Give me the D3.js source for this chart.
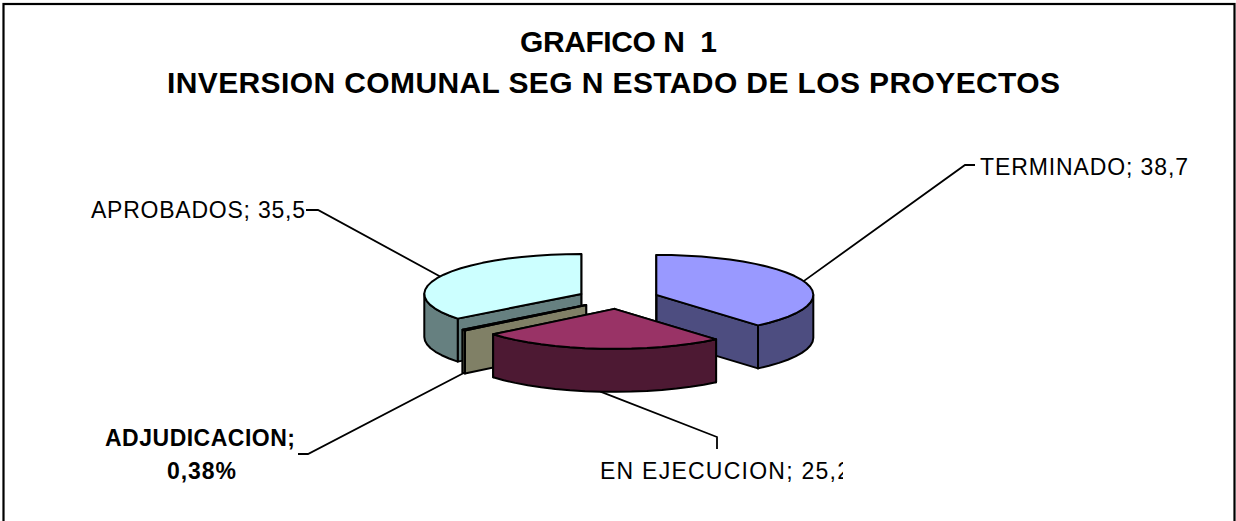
<!DOCTYPE html>
<html>
<head>
    <title>Grafico 1</title>
    <script src="https://d3js.org/d3.v7.min.js"></script>
    <style>
        html, body { margin: 0; padding: 0; background: #fff; }
        svg { display: block; }
        text { font-family: "Liberation Sans", Arial, sans-serif; white-space: pre; fill: #000; }
    </style>
</head>
<body>

<script>
// values
const categories = ['TERMINADO', 'EN EJECUCION', 'ADJUDICACION', 'APROBADOS'];
const values = [38.7, 25.2, 0.38, 35.5];
const valueLabels = ['38,7', '25,2', '0,38%', '35,5'];
const topColors = ['#9999ff', '#993366', '#ffffcc', '#ccffff'];
const sideColors = ['#4d4d80', '#4d1933', '#808066', '#668080'];
const titleLines = ['GRAFICO N  1', 'INVERSION COMUNAL SEG N ESTADO DE LOS PROYECTOS'];

const width = 1236, height = 521;

// pie geometry
const cx = 618, cy = 298.5;
const rx = 157, ry = 40, depth = 43;
const explode = 0.26;

const svg = d3.select('body')
    .append('svg')
    .attr('width', width)
    .attr('height', height);

// chart frame, the bottom edge falls outside the picture
svg.append('rect')
    .attr('x', 3.5).attr('y', 4)
    .attr('width', width - 5).attr('height', height + 10)
    .attr('fill', '#fff')
    .attr('stroke', '#000')
    .attr('stroke-width', 2.2);

// title
const titleSpec = [
    { x: 520, y: 52, len: 197 },
    { x: 167, y: 92.5, len: 893 }
];
svg.selectAll('text.title')
    .data(titleLines)
    .enter()
    .append('text')
    .attr('class', 'title')
    .attr('x', (d, i) => titleSpec[i].x)
    .attr('y', (d, i) => titleSpec[i].y)
    .attr('textLength', (d, i) => titleSpec[i].len)
    .attr('lengthAdjust', 'spacing')
    .attr('font-size', 30)
    .attr('font-weight', 'bold')
    .text(d => d);

// pie layout, kept in series order and starting at twelve o'clock
const pie = d3.pie().sort(null).value(d => d);
const arcs = pie(values).map((a, i) => {
    const mid = (a.startAngle + a.endAngle) / 2;
    return {
        i,
        start: a.startAngle,
        end: a.endAngle,
        mid,
        ox: cx + explode * rx * Math.sin(mid),
        oy: cy - explode * ry * Math.cos(mid)
    };
});

const rim = (s, t, dy = 0) => [s.ox + rx * Math.sin(t), s.oy - ry * Math.cos(t) + dy];
// rim is drawn as short straight pieces, the original is faceted too
const angles = (a, b) => {
    const n = Math.max(2, Math.ceil((b - a) / 0.1));
    return d3.range(n + 1).map(k => a + (b - a) * k / n);
};
const line = d3.line();

// back to front
const order = [3, 0, 2, 1];
const g = svg.append('g')
    .attr('stroke', '#000')
    .attr('stroke-width', 2)
    .attr('stroke-linejoin', 'round');

order.forEach(idx => {
    const s = arcs[idx];
    const top = topColors[idx], side = sideColors[idx];

    // cut faces
    [s.end, s.start].forEach(t => {
        const p = rim(s, t), q = rim(s, t, depth);
        g.append('path')
            .attr('d', line([[s.ox, s.oy], p, q, [s.ox, s.oy + depth]]) + 'Z')
            .attr('fill', side);
    });

    // outer wall, only the part turned to the viewer
    const a = Math.max(s.start, Math.PI / 2), b = Math.min(s.end, Math.PI * 1.5);
    if (b > a) {
        const ts = angles(a, b);
        const pts = ts.map(t => rim(s, t)).concat(ts.slice().reverse().map(t => rim(s, t, depth)));
        g.append('path').attr('d', line(pts) + 'Z').attr('fill', side);
    }

    // top face
    const topPts = [[s.ox, s.oy]].concat(angles(s.start, s.end).map(t => rim(s, t)));
    g.append('path').attr('d', line(topPts) + 'Z').attr('fill', top);
});

// leader lines start on the slice rim, elbows are label layout
const leaderSpec = [
    { elbow: [[965, 165], [975, 165]], front: 0 },
    { elbow: [[717, 437], [717, 449]], front: 1 },
    { elbow: [[308, 454], [298, 454]], front: 1 },
    { elbow: [[318, 210], [306, 210]], front: 0 }
];
arcs.forEach((s, i) => {
    const start = rim(s, s.mid, leaderSpec[i].front ? depth : 0);
    svg.append('path')
        .attr('d', line([start].concat(leaderSpec[i].elbow)))
        .attr('fill', 'none')
        .attr('stroke', '#000')
        .attr('stroke-width', 1.8);
});

// data labels
const clip = svg.append('clipPath').attr('id', 'label-clip');
clip.append('rect').attr('x', 0).attr('y', 0).attr('width', 843).attr('height', height);

const labelSpec = [
    { x: 980, y: 175, len: 208 },
    { x: 600, y: 479, len: 250, clip: true },
    null,
    { x: 91, y: 218, len: 214 }
];
categories.forEach((c, i) => {
    if (!labelSpec[i]) return;
    svg.append('text')
        .attr('x', labelSpec[i].x)
        .attr('y', labelSpec[i].y)
        .attr('textLength', labelSpec[i].len)
        .attr('lengthAdjust', 'spacing')
        .attr('font-size', 23)
        .attr('clip-path', labelSpec[i].clip ? 'url(#label-clip)' : null)
        .text(`${c}; ${valueLabels[i]}`);
});

// the small slice has its own bold two line label
svg.append('text')
    .attr('x', 105).attr('y', 446)
    .attr('textLength', 190)
    .attr('lengthAdjust', 'spacing')
    .attr('font-size', 23)
    .attr('font-weight', 'bold')
    .text(`${categories[2]};`);
svg.append('text')
    .attr('x', 167).attr('y', 479)
    .attr('textLength', 69)
    .attr('lengthAdjust', 'spacing')
    .attr('font-size', 23)
    .attr('font-weight', 'bold')
    .text(valueLabels[2]);
</script>

</body>
</html>
